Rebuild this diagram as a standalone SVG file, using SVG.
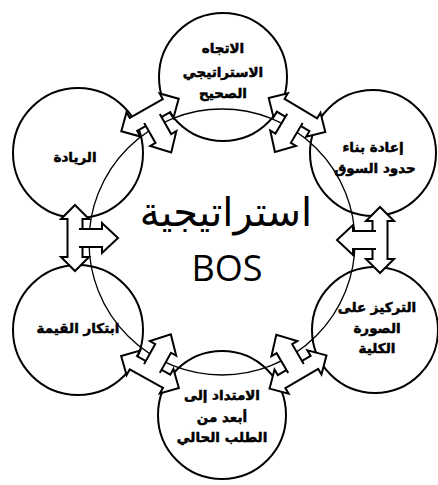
<svg xmlns="http://www.w3.org/2000/svg" width="438" height="485" viewBox="0 0 438 485">
<style>
.c{fill:none;stroke:#000;stroke-width:2}
.cc{fill:none;stroke:#000;stroke-width:1.3}
.a{fill:#fff;stroke:#000;stroke-width:2;stroke-linejoin:miter}
.t{font-family:"DejaVu Sans",sans-serif;font-weight:bold;font-size:13.5px;text-anchor:middle;fill:#000;stroke:#000;stroke-width:0.5}
.big{font-family:"DejaVu Sans",sans-serif;font-size:40px;text-anchor:middle;fill:#000}
.bos{font-family:"Open Sans","Liberation Sans",sans-serif;font-size:36px;text-anchor:middle;fill:#000}
</style>
<defs>
<g id="arr">
<path class="a" d="M -33 0 L -19 -14 L -19 -7.5 L 19 -7.5 L 19 -14 L 33 0 L 19 14 L 19 7.5 L -19 7.5 L -19 14 Z"/>
<path class="a" d="M -9 -4 L -9 -27 L -15 -27 L 0 -43 L 15 -27 L 9 -27 L 9 -4"/>
</g>
</defs>
<rect width="438" height="485" fill="#fff"/>
<g id="center">
<circle class="cc" cx="222" cy="242" r="133"/>
<text class="big" x="226" y="226">استراتيجية</text>
<text class="bos" x="227" y="281">BOS</text>
</g>
<g id="n-top">
<circle class="c" cx="223" cy="77" r="64"/>
<text class="t" x="223" y="53">الاتجاه</text>
<text class="t" x="223" y="77">الاستراتيجي</text>
<text class="t" x="223" y="98">الصحيح</text>
</g>
<g id="n-topright">
<circle class="c" cx="373" cy="153" r="63"/>
<text class="t" x="373" y="152">إعادة بناء</text>
<text class="t" x="375" y="173">حدود السوق</text>
</g>
<g id="n-bottomright">
<circle class="c" cx="375" cy="330" r="63"/>
<text class="t" x="377" y="312">التركيز على</text>
<text class="t" x="377" y="333">الصورة</text>
<text class="t" x="377" y="353">الكلية</text>
</g>
<g id="n-bottom">
<circle class="c" cx="222" cy="415" r="64"/>
<text class="t" x="222" y="400">الامتداد إلى</text>
<text class="t" x="222" y="422">أبعد من</text>
<text class="t" x="222" y="442">الطلب الحالي</text>
</g>
<g id="n-bottomleft">
<circle class="c" cx="78" cy="330" r="65"/>
<text class="t" x="78" y="333">ابتكار القيمة</text>
</g>
<g id="n-left">
<circle class="c" cx="78" cy="153" r="65"/>
<text class="t" x="75" y="162">الريادة</text>
</g>
<g id="connectors">
<use href="#arr" transform="translate(150,115) rotate(150.4)"/>
<use href="#arr" transform="translate(297,115) rotate(-149.1)"/>
<use href="#arr" transform="translate(380,240) rotate(-90)"/>
<use href="#arr" transform="translate(298,372) rotate(-30.3)"/>
<use href="#arr" transform="translate(150,372) rotate(29)"/>
<use href="#arr" transform="translate(75,238) rotate(90)"/>
</g>
</svg>
